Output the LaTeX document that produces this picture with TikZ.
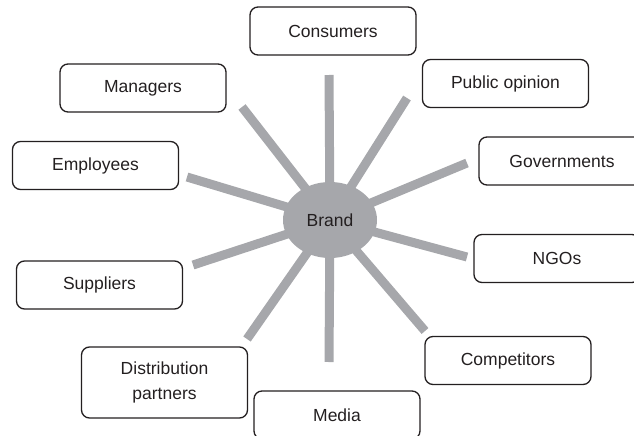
\documentclass[tikz,border=0pt]{standalone}
\usepackage{fontspec}
\setmainfont{Liberation Sans}
\usepackage{tikz}
\usetikzlibrary{shapes.geometric}

\definecolor{spokegray}{RGB}{166,167,171}
\definecolor{inkgray}{RGB}{35,31,32}

\tikzset{
  party/.style={draw=inkgray, line width=1.3pt, rounded corners=8pt, minimum width=166pt, minimum height=48pt, align=center, text=inkgray, font=\fontsize{17.5}{25}\selectfont, inner sep=0pt},
  spoke/.style={draw=spokegray, line width=9pt},
}

\begin{document}
\begin{tikzpicture}[x=1pt,y=1pt,yscale=-1,xscale=1]
\useasboundingbox (0,0) rectangle (634,436);
\clip (0,0) rectangle (634,436);

%Stakeholder boxes
\node [party] (consumers) at (333,31) {Consumers};
\node [party] (publicop) at (505.5,83.5) {Public opinion};
\node [party] (govts) at (562,161) {Governments};
\node [party] (ngos) at (557,258.5) {NGOs};
\node [party] (competitors) at (508,360.5) {Competitors};
\node [party] (media) at (337,415) {Media};
\node [party, minimum height=71pt] (distrib) at (164.5,382.5) {Distribution\\partners};
\node [party] (suppliers) at (99.5,285) {Suppliers};
\node [party] (employees) at (95.5,165.5) {Employees};
\node [party] (managers) at (143,88) {Managers};

%Free ends of the spokes
\coordinate (consumers-end) at (329,75);
\coordinate (publicop-end) at (407,98);
\coordinate (govts-end) at (467,163);
\coordinate (ngos-end) at (467,257);
\coordinate (competitors-end) at (425,331);
\coordinate (media-end) at (329,362);
\coordinate (distrib-end) at (247,339);
\coordinate (suppliers-end) at (193,265);
\coordinate (employees-end) at (187,177);
\coordinate (managers-end) at (242,107);

%Hub
\coordinate (hub) at (330,220);
\foreach \p in {consumers,publicop,govts,ngos,competitors,media,distrib,suppliers,employees,managers}
  \draw [spoke] (hub) -- (\p-end);

\node [ellipse, fill=spokegray, minimum width=94pt, minimum height=76pt, inner sep=0pt, text=inkgray, font=\fontsize{17.5}{21}\selectfont] (brand) at (hub) {Brand};

\end{tikzpicture}
\end{document}
